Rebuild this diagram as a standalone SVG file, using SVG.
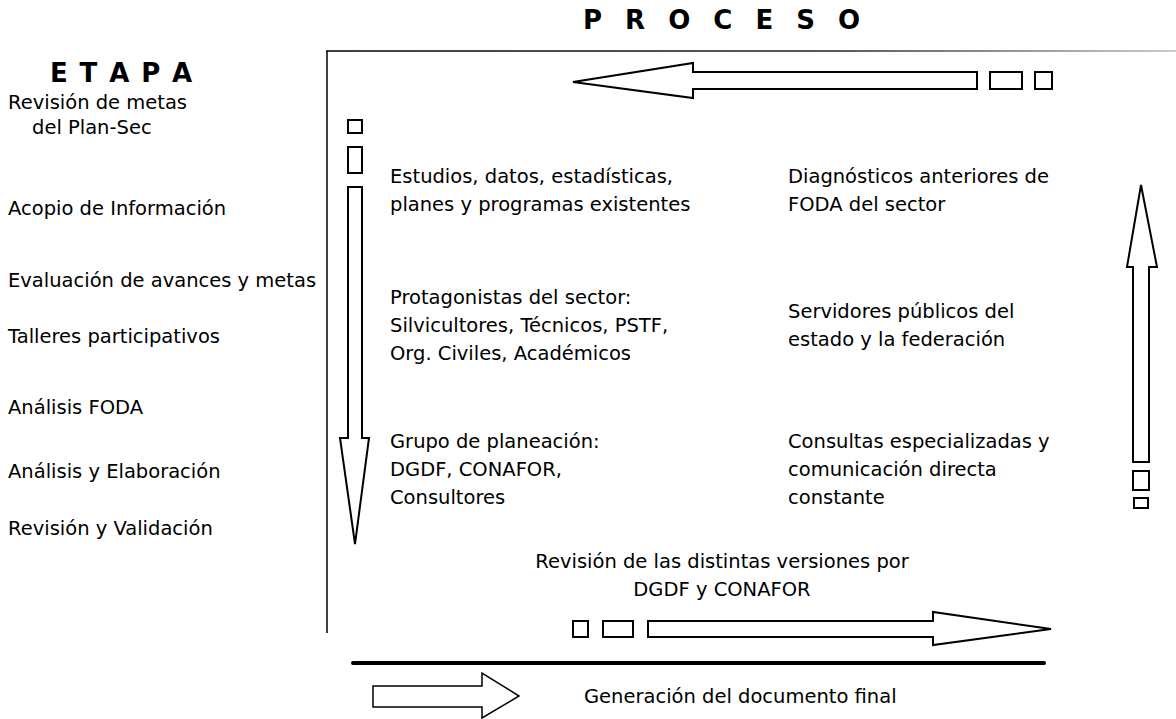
<svg xmlns="http://www.w3.org/2000/svg" width="1176" height="719" viewBox="0 0 1176 719">
<style>
.t{font-family:"DejaVu Sans","Liberation Sans",sans-serif;font-size:19.5px;fill:#000}
.h{font-family:"DejaVu Sans","Liberation Sans",sans-serif;font-size:26px;font-weight:bold;fill:#000}
.s{fill:#fff;stroke:#000;stroke-width:2;stroke-linejoin:miter}
.l{stroke:#000;stroke-width:1.5;fill:none}
</style>
<defs>
<linearGradient id="fade" gradientUnits="userSpaceOnUse" x1="327" y1="0" x2="1176" y2="0">
<stop offset="0" stop-color="#000"/>
<stop offset="0.6" stop-color="#222"/>
<stop offset="1" stop-color="#bbb"/>
</linearGradient>
</defs>
<rect width="1176" height="719" fill="#fff"/>
<g id="titles">
<text class="h" x="583" y="29" style="letter-spacing:7px">P R O C E S O</text>
<text class="h" x="50" y="82" style="letter-spacing:1.4px">E T A P A</text>
</g>
<g id="etapas">
<text class="t" x="8" y="109">Revisión de metas</text>
<text class="t" x="32" y="134">del Plan-Sec</text>
<text class="t" x="8" y="215">Acopio de Información</text>
<text class="t" x="8" y="287">Evaluación de avances y metas</text>
<text class="t" x="8" y="343">Talleres participativos</text>
<text class="t" x="8" y="414">Análisis FODA</text>
<text class="t" x="8" y="478">Análisis y Elaboración</text>
<text class="t" x="8" y="535">Revisión y Validación</text>
</g>
<g id="frame">
<line x1="327" y1="633" x2="327" y2="51" class="l"/>
<line x1="326" y1="51" x2="1176" y2="51" stroke="url(#fade)" stroke-width="1.5"/>
</g>
<g id="connectors">
<path class="s" d="M977,72 H693 V63 L573,82 L693,98 V89 H977 Z"/>
<rect class="s" x="990" y="72" width="32" height="17"/>
<rect class="s" x="1035" y="72" width="17" height="17"/>
<rect class="s" x="348" y="120" width="14" height="13"/>
<rect class="s" x="348" y="147" width="14" height="26"/>
<path class="s" d="M348,187 H362 V438 H369 L355,544 L340,438 H348 Z"/>
<path class="s" d="M1133,462 V267 H1127 L1141,185 L1157,267 H1149 V462 Z"/>
<rect class="s" x="1133" y="471" width="16" height="19"/>
<rect class="s" x="1134" y="498" width="14" height="10"/>
<rect class="s" x="573" y="621" width="15" height="16"/>
<rect class="s" x="603" y="621" width="30" height="16"/>
<path class="s" d="M648,621 H933 V612 L1051,629 L933,645 V637 H648 Z"/>
<line x1="353" y1="663" x2="1044" y2="663" stroke="#000" stroke-width="4" stroke-linecap="round"/>
<path class="s" d="M373,686 H482 V673 L519,696 L482,718 V707 H373 Z" style="stroke-width:1.5"/>
</g>
<g id="fuentes">
<text class="t" x="390" y="183">Estudios, datos, estadísticas,</text>
<text class="t" x="390" y="211">planes y programas existentes</text>
<text class="t" x="788" y="183">Diagnósticos anteriores de</text>
<text class="t" x="788" y="211">FODA del sector</text>
</g>
<g id="protagonistas">
<text class="t" x="390" y="304">Protagonistas del sector:</text>
<text class="t" x="390" y="332">Silvicultores, Técnicos, PSTF,</text>
<text class="t" x="390" y="360">Org. Civiles, Académicos</text>
</g>
<g id="servidores">
<text class="t" x="788" y="318">Servidores públicos del</text>
<text class="t" x="788" y="346">estado y la federación</text>
</g>
<g id="grupo">
<text class="t" x="390" y="448">Grupo de planeación:</text>
<text class="t" x="390" y="476">DGDF, CONAFOR,</text>
<text class="t" x="390" y="504">Consultores</text>
</g>
<g id="consultas">
<text class="t" x="788" y="448">Consultas especializadas y</text>
<text class="t" x="788" y="476">comunicación directa</text>
<text class="t" x="788" y="504">constante</text>
</g>
<g id="revision">
<text class="t" x="722" y="568" text-anchor="middle">Revisión de las distintas versiones por</text>
<text class="t" x="722" y="596" text-anchor="middle">DGDF y CONAFOR</text>
</g>
<g id="final">
<text class="t" x="584" y="703">Generación del documento final</text>
</g>
</svg>
